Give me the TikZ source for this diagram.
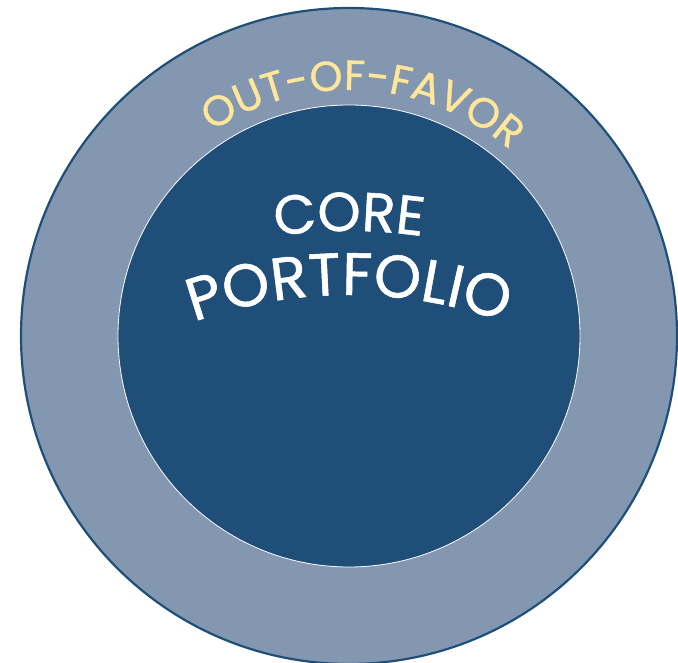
\documentclass[tikz,border=0pt]{standalone}
\usepackage{fontspec}
\setmainfont{Poppins}
\newfontfamily\arcfont{Poppins}[FakeBold=0.9]
\usetikzlibrary{decorations.text}
\definecolor{navy}{HTML}{1F4E79}
\definecolor{slate}{HTML}{8497B0}
\definecolor{butter}{HTML}{FFE699}

\begin{document}
\begin{tikzpicture}[x=1pt, y=1pt,
    ring/.style={circle, inner sep=0pt, fill=slate, draw=navy, line width=2.2pt},
    core/.style={circle, inner sep=0pt, fill=navy, draw=white, line width=0.8pt},
    arclabel/.style={decorate, decoration={text along path, text align=center}}]
  \useasboundingbox (0,0) rectangle (678,662);

  \node[ring, minimum size=656pt] (outer) at (349,326) {};
  \node[core, minimum size=462pt] (inner) at (349,326) {};

  % labels along arcs
  \path[arclabel, decoration={text color=butter,
      text={|\arcfont\fontsize{42}{42}\selectfont|OUT-OF-FAVOR}}]
    (outer.center) ++(151.5:246pt) arc[start angle=151.5, end angle=21.5, radius=246pt];
  \path[arclabel, decoration={text color=white,
      text={|\arcfont\fontsize{55}{55}\selectfont|CORE}}]
    (349,-93) ++(115:524pt) arc[start angle=115, end angle=65, radius=524pt];
  \path[arclabel, decoration={text color=white,
      text={|\arcfont\fontsize{60}{60}\selectfont|PORTFOLIO}}]
    (349,-93) ++(125:460pt) arc[start angle=125, end angle=55, radius=460pt];
\end{tikzpicture}
\end{document}
